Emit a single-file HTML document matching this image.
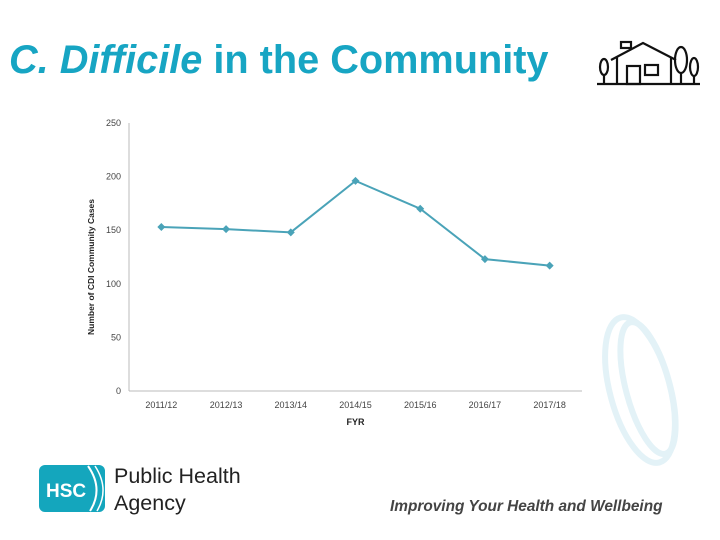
<!DOCTYPE html>
<html><head><meta charset="utf-8"><style>
body{margin:0;width:720px;height:540px;background:#fff;overflow:hidden;position:relative;font-family:"Liberation Sans",sans-serif}
#title{position:absolute;left:9px;top:38px;font-size:39.7px;font-weight:bold;color:#17a5c3;white-space:nowrap}
</style></head><body>
<div id="title"><i>C. Difficile</i> in the Community</div>
<svg width="720" height="540" style="position:absolute;left:0;top:0">
<g stroke="#111" stroke-width="2.2" fill="none">
<line x1="597" y1="84" x2="700" y2="84"/>
<polyline points="611,60 643,43 676,60"/>
<line x1="617" y1="57" x2="617" y2="84"/><line x1="671" y1="58" x2="671" y2="84"/>
<rect x="621" y="42" width="10" height="6"/>
<rect x="627" y="66" width="13" height="18"/><rect x="645" y="65" width="13" height="10"/>
<ellipse cx="604" cy="67" rx="4" ry="8"/><line x1="604" y1="74" x2="604" y2="84"/>
<ellipse cx="681" cy="60" rx="6" ry="13"/><line x1="681" y1="72" x2="681" y2="84"/>
<ellipse cx="694" cy="67" rx="4" ry="9"/><line x1="694" y1="75" x2="694" y2="84"/>
</g>
<g fill="none" stroke="#e3f2f7" stroke-width="6">
<ellipse cx="640" cy="390" rx="30" ry="75" transform="rotate(-15 640 390)"/>
<ellipse cx="648" cy="388" rx="22" ry="68" transform="rotate(-15 648 388)"/>
</g>
<g id="chart"></g>
<g>
<rect x="39" y="465" width="66" height="47" rx="6" fill="#14a6bd"/>
<path d="M88 466 Q104 489 90 511" stroke="#fff" stroke-width="2" fill="none"/>
<path d="M95 466 Q110 489 97 511" stroke="#fff" stroke-width="1.5" fill="none"/>
<text x="46" y="497" font-size="19" font-weight="bold" fill="#fff">HSC</text>
<text x="114" y="483" font-size="21.5" fill="#222">Public Health</text>
<text x="114" y="510" font-size="21.5" fill="#222">Agency</text>
</g>
<text x="390" y="511" font-size="15.4" font-weight="bold" font-style="italic" fill="#444">Improving Your Health and Wellbeing</text>
</svg>
<script>
const categories=["2011/12","2012/13","2013/14","2014/15","2015/16","2016/17","2017/18"];
const values=[153,151,148,196,170,123,117];
const yTicks=[0,50,100,150,200,250];
const NS="http://www.w3.org/2000/svg";
const g=document.getElementById('chart');
const x0=129,x1=582,y0=391,y1=123;
const xs=i=>x0+(x1-x0)*(i+0.5)/categories.length;
const ys=v=>y0-(v/250)*(y0-y1);
function mk(t,a,p){const e=document.createElementNS(NS,t);for(const k in a)e.setAttribute(k,a[k]);(p||g).appendChild(e);return e;}
const ya=mk('line',{x1:x0,y1:y1,x2:x0,y2:y0,stroke:'#bbb'});


const xa=mk('line',{x1:x0,y1:y0,x2:x1,y2:y0,stroke:'#bbb'});


yTicks.forEach(v=>{const t=mk('text',{x:x0-8,y:ys(v)+3,'font-size':9,'text-anchor':'end',fill:'#444'});t.textContent=v;

});
categories.forEach((c,i)=>{const t=mk('text',{x:xs(i),y:y0+17,'font-size':9,'text-anchor':'middle',fill:'#444'});t.textContent=c;

});
const xt=mk('text',{x:(x0+x1)/2,y:425,'font-size':9,'font-weight':'bold','text-anchor':'middle',fill:'#222'});xt.textContent='FYR';


const yt=mk('text',{x:0,y:0,'font-size':8.5,'font-weight':'bold','text-anchor':'middle',fill:'#222',transform:`translate(94,${(y0+y1)/2+10}) rotate(-90)`});yt.textContent='Number of CDI Community Cases';


const ln=mk('polyline',{points:values.map((v,i)=>xs(i)+','+ys(v)).join(' '),fill:'none',stroke:'#4aa3b8','stroke-width':2});


values.forEach((v,i)=>{const x=xs(i),y=ys(v);const p=mk('polygon',{points:`${x},${y-4} ${x+4},${y} ${x},${y+4} ${x-4},${y}`,fill:'#4aa3b8'});

});
</script>
</body></html>
